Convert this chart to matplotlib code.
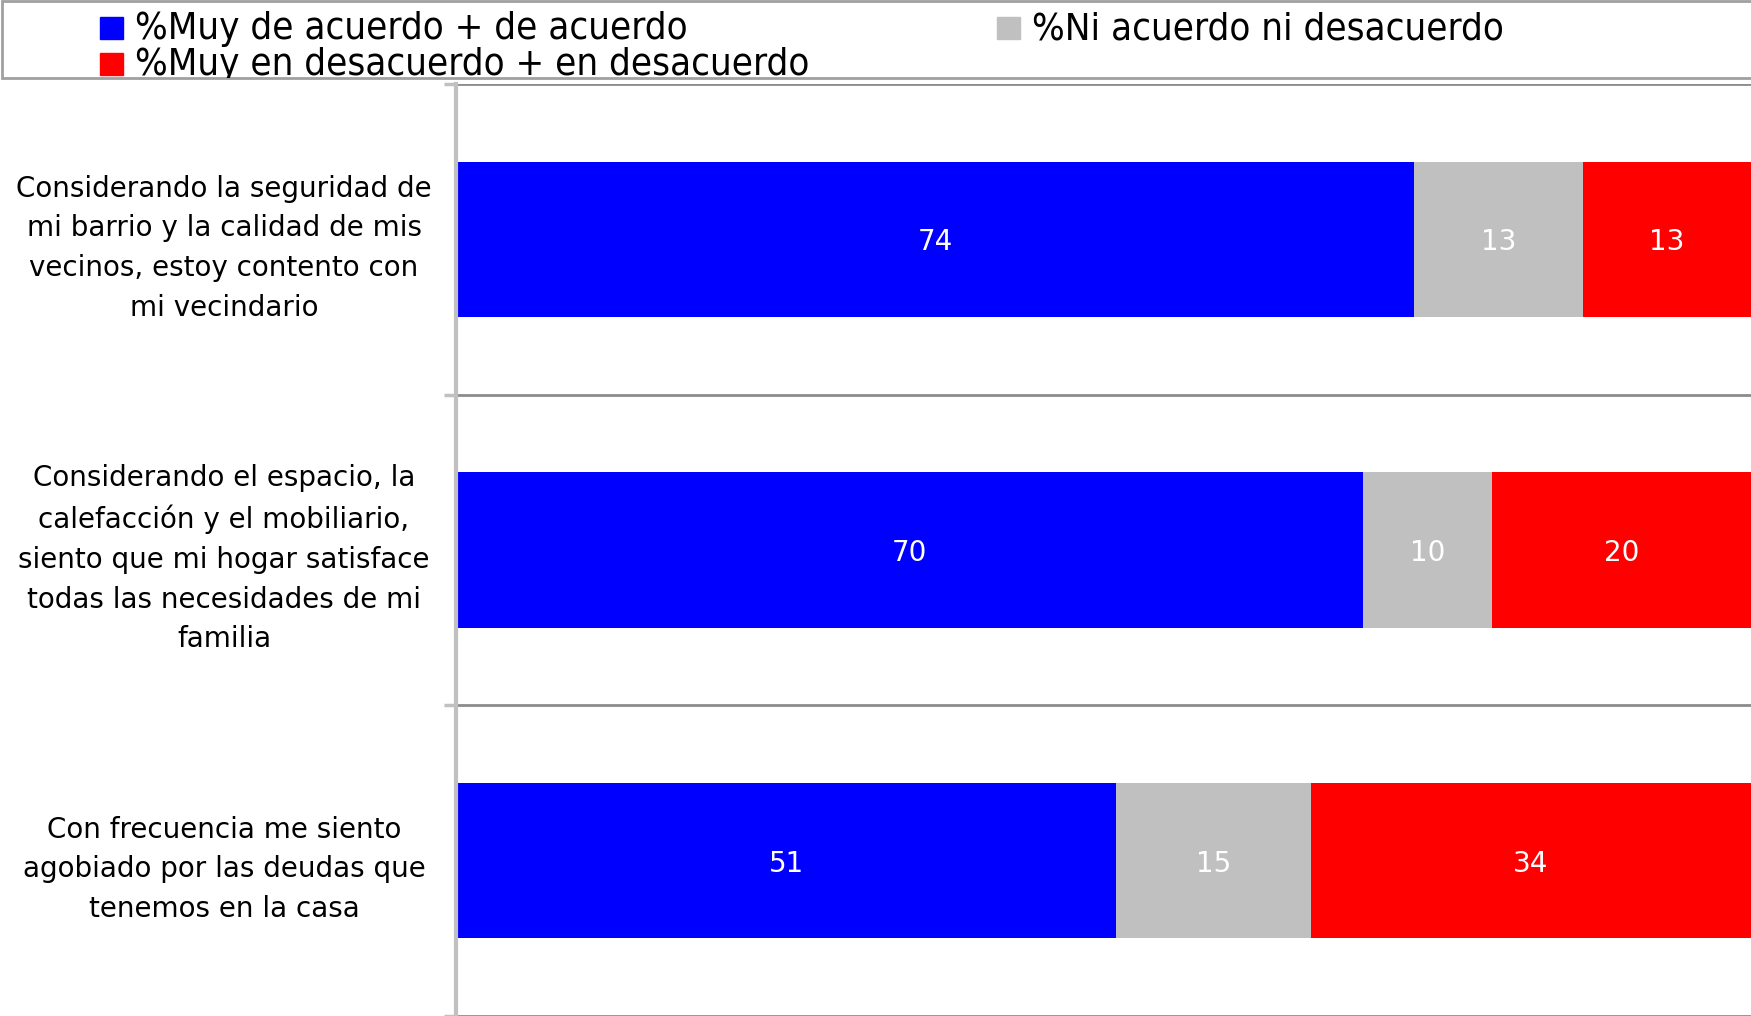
import matplotlib
matplotlib.use("Agg")
import matplotlib.pyplot as plt
from matplotlib.patches import Rectangle

# --- Data
categories = [
    "Considerando la seguridad de\nmi barrio y la calidad de mis\nvecinos, estoy contento con\nmi vecindario",
    "Considerando el espacio, la\ncalefacción y el mobiliario,\nsiento que mi hogar satisface\ntodas las necesidades de mi\nfamilia",
    "Con frecuencia me siento\nagobiado por las deudas que\ntenemos en la casa",
]
series_names = [
    "%Muy de acuerdo + de acuerdo",
    "%Ni acuerdo ni desacuerdo",
    "%Muy en desacuerdo + en desacuerdo",
]
acuerdo = [74, 70, 51]
neutral = [13, 10, 15]
desacuerdo = [13, 20, 34]

colors = ["#0000ff", "#c0c0c0", "#ff0000"]

W, H = 1751, 1016
fig = plt.figure(figsize=(W / 100, H / 100), dpi=100)


def fx(x):
    return x / W


def fy(y_top):
    # pixel row from the top -> figure fraction
    return 1 - y_top / H


# axes: x 456..1751, y 84..1016 (pixels from top)
ax = fig.add_axes([fx(456), 0, 1 - fx(456), fy(84)])

ypos = list(range(len(categories)))
left = [0] * len(categories)
for vals, col, name in zip([acuerdo, neutral, desacuerdo], colors, series_names):
    bars = ax.barh(ypos, vals, left=left, height=0.5, color=col, label=name)
    for b, v in zip(bars, vals):
        ax.text(b.get_x() + b.get_width() / 2, b.get_y() + b.get_height() / 2, f"{v}",
                ha="center", va="center_baseline", color="white", fontsize=20)
    left = [l + v for l, v in zip(left, vals)]

ax.set_xlim(0, 100)
ax.set_ylim(len(categories) - 0.5, -0.5)
ax.set_xticks([])

# boundaries as major ticks with grid, labels as minor ticks
ax.set_yticks([i - 0.5 for i in range(len(categories) + 1)])
ax.set_yticklabels([])
ax.set_yticks(ypos, minor=True)
ax.set_yticklabels(categories, minor=True, ha="center", fontsize=20, linespacing=1.53)
ax.tick_params(axis="y", which="major", length=9, width=2.5, color="#c0c0c0")
ax.tick_params(axis="y", which="minor", length=0, pad=167)
ax.yaxis.grid(True, which="major", color="#8c8c8c", linewidth=2)
ax.set_axisbelow(True)

for s in ["top", "right", "bottom"]:
    ax.spines[s].set_visible(False)
ax.spines["left"].set_color("#c0c0c0")
ax.spines["left"].set_linewidth(3)

# --- Legend box across the top (drawn by hand to match the original layout)
frame = Rectangle((fx(2), fy(78)), 1.0, fy(1) - fy(78), transform=fig.transFigure,
                  facecolor="white", edgecolor="#a0a0a0", linewidth=2)
fig.add_artist(frame)

legend_items = [
    (series_names[0], colors[0], 100, 28),
    (series_names[1], colors[1], 997, 28),
    (series_names[2], colors[2], 100, 64),
]
for name, col, x0, yc in legend_items:
    fig.add_artist(Rectangle((fx(x0), fy(yc + 11)), fx(23), fy(0) - fy(22),
                             transform=fig.transFigure, color=col))
    t = fig.text(fx(x0 + 35), fy(yc + 1), name, ha="left", va="center",
                 fontsize=27.5, fontstretch="condensed", color="black")
    t.set_clip_path(frame)

fig.savefig("out.png", dpi=100)
